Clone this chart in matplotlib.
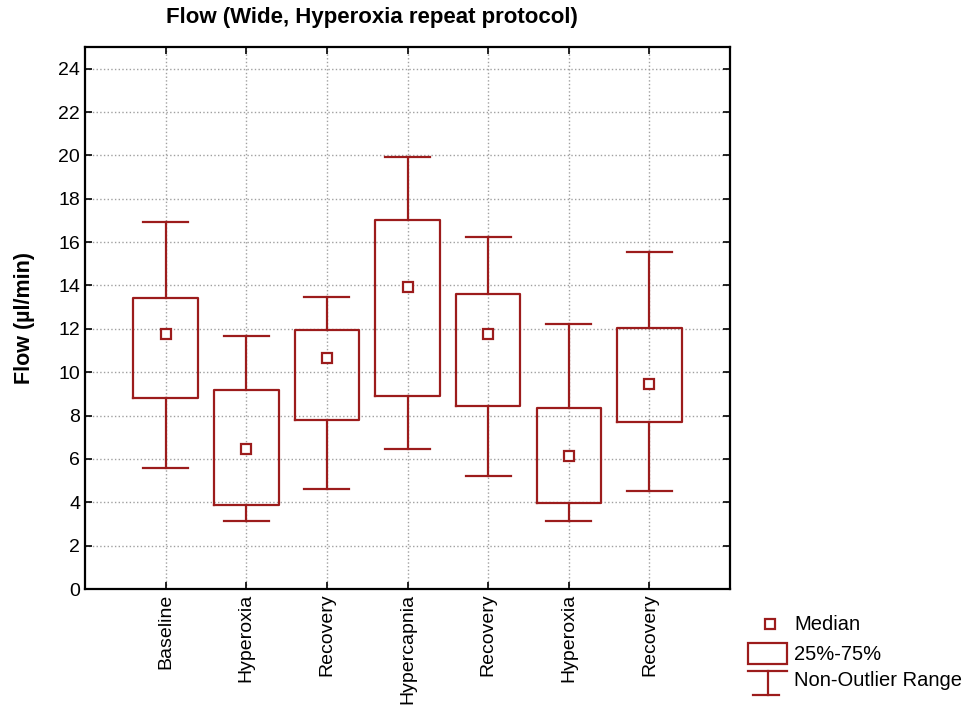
import matplotlib
matplotlib.use("Agg")
import matplotlib.pyplot as plt
from matplotlib.patches import Rectangle
from matplotlib.lines import Line2D

plt.rcParams['font.family'] = ['Liberation Sans', 'DejaVu Sans']

# values
categories = ["Baseline", "Hyperoxia", "Recovery", "Hypercapnia",
              "Recovery", "Hyperoxia", "Recovery"]
medians = [11.77, 6.48, 10.67, 13.91, 11.77, 6.12, 9.46]
q1 = [8.81, 3.89, 7.78, 8.89, 8.42, 3.97, 7.68]
q3 = [13.43, 9.17, 11.95, 17.04, 13.62, 8.34, 12.04]
whisker_lo = [5.56, 3.14, 4.63, 6.48, 5.20, 3.14, 4.53]
whisker_hi = [16.95, 11.67, 13.45, 19.93, 16.23, 12.22, 15.56]

color = '#9c1c1c'

fig = plt.figure(figsize=(9.76, 7.27), dpi=100)
ax = fig.add_axes([85 / 976, 1 - 589 / 727, 645 / 976, 542 / 727])

stats = []
for i in range(len(categories)):
    stats.append({'med': medians[i], 'q1': q1[i], 'q3': q3[i],
                  'whislo': whisker_lo[i], 'whishi': whisker_hi[i],
                  'fliers': []})

positions = list(range(1, len(categories) + 1))
line = dict(color=color, linewidth=1.6)
ax.bxp(stats, positions=positions, widths=0.8, capwidths=0.56,
       showfliers=False, boxprops=line, whiskerprops=line, capprops=line,
       medianprops=dict(linewidth=0), manage_ticks=False, zorder=3)
ax.plot(positions, medians, linestyle='none', marker='s', markersize=7,
        markerfacecolor='white', markeredgecolor=color, markeredgewidth=1.6,
        zorder=4)

ax.set_xlim(0, 8)
ax.set_ylim(0, 25)
ax.set_yticks(range(0, 25, 2))
ax.set_xticks(positions)
ax.set_xticklabels(categories, rotation=90, fontsize=14)
ax.tick_params(axis='y', labelsize=14)
ax.tick_params(direction='in', length=5, width=1.2, top=True, right=True)
ax.grid(True, linestyle=':', color='#a0a0a0', linewidth=1)
for s in ax.spines.values():
    s.set_linewidth(1.6)
ax.set_ylabel("Flow (µl/min)", fontsize=15.5, fontweight='bold')
ax.yaxis.set_label_coords(-50 / 645, 0.5)

fig.text(372 / 976, 1 - 18 / 727, "Flow (Wide, Hyperoxia repeat protocol)",
         ha='center', va='center', fontsize=16, fontweight='bold')

# legend drawn in pixel-like coordinates on a blank axes
lg = fig.add_axes([740 / 976, 1 - 700 / 727, 236 / 976, 100 / 727])
lg.set_xlim(740, 976)
lg.set_ylim(700, 600)
lg.axis('off')
lg.add_line(Line2D([769.5], [624], marker='s', markersize=7,
                   markerfacecolor='white', markeredgecolor=color,
                   markeredgewidth=1.6, linestyle='none'))
lg.text(794, 624, "Median", va='center', fontsize=14.5)
lg.add_patch(Rectangle((748, 643), 39, 21, fill=False, edgecolor=color,
                       linewidth=1.6))
lg.text(794, 655, "25%-75%", va='center', fontsize=14.5)
lg.add_line(Line2D([748, 787], [671, 671], color=color, linewidth=1.6))
lg.add_line(Line2D([767.5, 767.5], [671, 695], color=color, linewidth=1.6))
lg.add_line(Line2D([753, 779], [695, 695], color=color, linewidth=1.6))
lg.text(794, 681, "Non-Outlier Range", va='center', fontsize=14.5)

fig.savefig("out.png", dpi=100)
